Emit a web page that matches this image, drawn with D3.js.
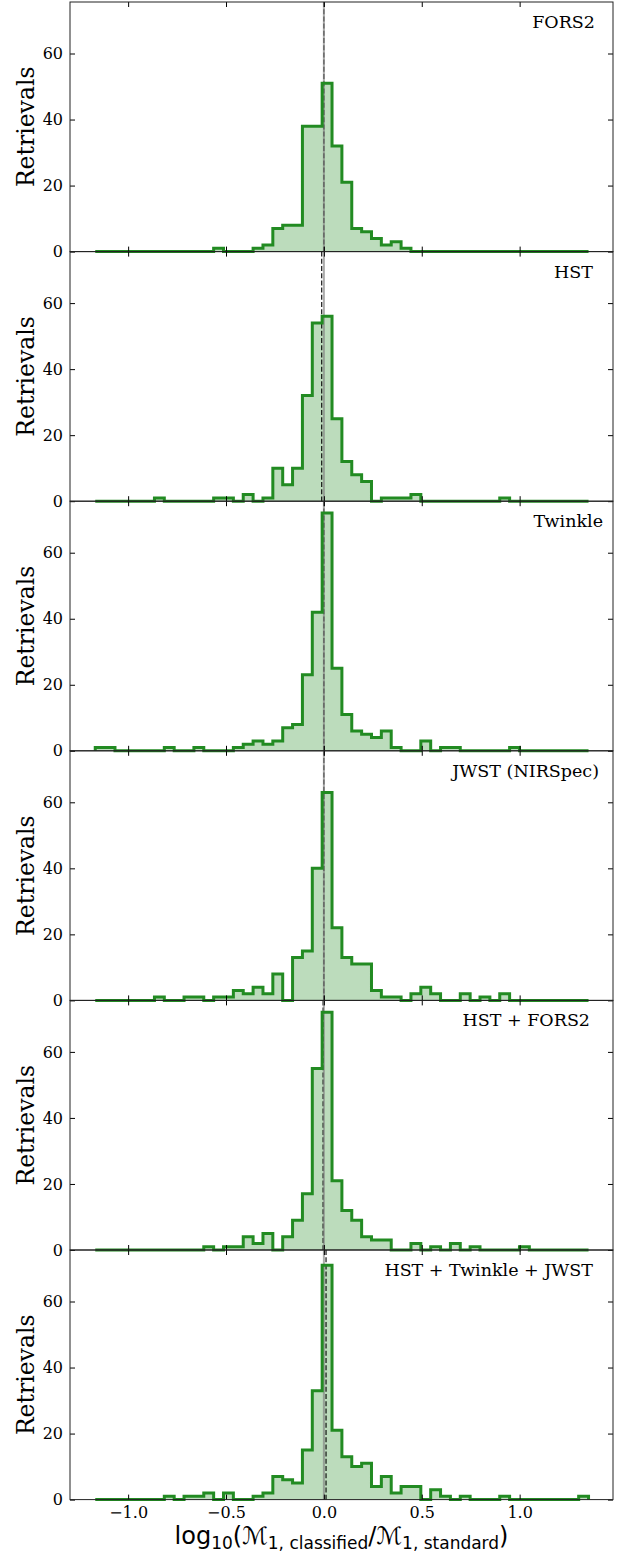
<!DOCTYPE html>
<html><head><meta charset="utf-8">
<script src="https://cdn.jsdelivr.net/npm/d3@7"></script>
<style>
html,body{margin:0;padding:0;background:#fff;}
svg{display:block;}
</style></head><body>
<svg id="chart" width="628" height="1558"></svg>
<script>
// Distribution of log10(M1,classified / M1,standard) for each instrument set
const panelNames = ["FORS2", "HST", "Twinkle", "JWST (NIRSpec)", "HST + FORS2", "HST + Twinkle + JWST"];

// 50 equal-width bins spanning this range
const binRange = [-1.168, 1.352];
const binCount = 50;

// retrievals per bin
const countsFORS2 = [0,0,0,0,0,0,0,0,0,0, 0,0,1,0,0,0,1,2,7,8, 8,38,38,51,32,21,7,6,4,2, 3,1,0,0,0,0,0,0,0,0, 0,0,0,0,0,0,0,0,0,0];
const countsHST = [0,0,0,0,0,0,1,0,0,0, 0,0,1,1,0,2,0,1,10,5, 10,32,54,56,25,12,8,6,0,1, 1,1,2,0,0,0,0,0,0,0, 0,1,0,0,0,0,0,0,0,0];
const countsTwinkle = [1,1,0,0,0,0,0,1,0,0, 1,0,0,0,1,2,3,2,3,7, 8,23,42,72,25,11,6,5,4,6, 1,0,0,3,0,1,1,0,0,0, 0,0,1,0,0,0,0,0,0,0];
const countsJWST = [0,0,0,0,0,0,1,0,0,1, 1,0,1,1,3,2,4,2,8,0, 13,15,40,63,22,13,11,11,3,1, 1,0,2,4,2,0,0,2,0,1, 0,2,0,0,0,0,0,0,0,0];
const countsHSTFORS2 = [0,0,0,0,0,0,0,0,0,0, 0,1,0,1,1,4,2,5,0,4, 9,17,55,72,21,12,9,4,3,3, 0,0,2,0,1,0,2,0,1,0, 0,0,0,1,0,0,0,0,0,0];
const countsAll = [0,0,0,0,0,0,0,1,0,1, 1,2,0,2,0,0,1,2,7,6, 5,15,33,71,21,13,10,11,4,7, 2,4,4,0,3,1,0,1,0,0, 0,1,0,0,0,0,0,0,0,1];

// median of each distribution (black dashed line)
const medians = [0.0, -0.011, 0.0, 0.0, -0.004, 0.011];

const xTicks = [-1.0, -0.5, 0.0, 0.5, 1.0];
const yTicks = [0, 20, 40, 60];
const xLimits = [-1.297, 1.477];
const yLimits = [0, 75.6];

const seriesList = [countsFORS2, countsHST, countsTwinkle, countsJWST, countsHSTFORS2, countsAll];

// layout
const left = 70, right = 613, top0 = 2, panelH = 249.6;
const labelRightEdge = [595, 593, 603, 599, 590, 593];
const green = "#228B22";

const svg = d3.select("#chart");
const x = d3.scaleLinear().domain(xLimits).range([left, right]);

const edges = d3.range(binCount + 1).map(k => binRange[0] + k * (binRange[1] - binRange[0]) / binCount);

seriesList.forEach((counts, i) => {
  const top = top0 + i * panelH;
  const bottom = top + panelH;
  const y = d3.scaleLinear().domain(yLimits).range([bottom, top]);
  const g = svg.append("g");

  // step outline points
  const pts = [[edges[0], 0]];
  counts.forEach((c, k) => { pts.push([edges[k], c]); pts.push([edges[k + 1], c]); });
  pts.push([edges[binCount], 0]);

  const line = d3.line().x(d => x(d[0])).y(d => y(d[1]));

  g.append("path")
    .attr("d", line(pts) + "Z")
    .attr("fill", green)
    .attr("fill-opacity", 0.3)
    .attr("stroke", "none");

  // median line
  g.append("line")
    .attr("x1", x(medians[i])).attr("x2", x(medians[i]))
    .attr("y1", top).attr("y2", bottom)
    .attr("stroke", "#000").attr("stroke-width", 1.1)
    .attr("stroke-dasharray", "5,2.2");

  // reference line at zero
  g.append("line")
    .attr("x1", x(0)).attr("x2", x(0))
    .attr("y1", top).attr("y2", bottom)
    .attr("stroke", "#808080").attr("stroke-width", 2).attr("stroke-opacity", 0.65);

  g.append("path")
    .attr("d", line(pts))
    .attr("fill", "none")
    .attr("stroke", green)
    .attr("stroke-width", 3)
    .attr("stroke-linejoin", "miter");

  // axes with inward ticks on all four sides
  const styleAxis = sel => {
    sel.select(".domain").remove();
    sel.selectAll("line").attr("stroke", "#000");
    sel.selectAll("text").attr("font-family", "'DejaVu Serif', serif").attr("font-size", 16).attr("fill", "#000");
  };
  g.append("g").attr("transform", `translate(${left},0)`)
    .call(d3.axisLeft(y).tickValues(yTicks).tickSize(-5).tickPadding(7).tickFormat(d3.format("d")))
    .call(styleAxis);
  g.append("g").attr("transform", `translate(${right},0)`)
    .call(d3.axisRight(y).tickValues(yTicks).tickSize(-5).tickFormat(""))
    .call(styleAxis);
  g.append("g").attr("transform", `translate(0,${top})`)
    .call(d3.axisTop(x).tickValues(xTicks).tickSize(-5).tickFormat(""))
    .call(styleAxis);
  const isLast = i === seriesList.length - 1;
  g.append("g").attr("transform", `translate(0,${bottom})`)
    .call(d3.axisBottom(x).tickValues(xTicks).tickSize(-5).tickPadding(7)
      .tickFormat(isLast ? d3.format(".1f") : ""))
    .call(styleAxis);

  // frame
  g.append("rect")
    .attr("x", left).attr("y", top)
    .attr("width", right - left).attr("height", panelH)
    .attr("fill", "none").attr("stroke", "#222").attr("stroke-width", 1);

  // instrument label
  g.append("text")
    .attr("x", labelRightEdge[i]).attr("y", top + 26)
    .attr("text-anchor", "end")
    .attr("font-family", "'DejaVu Serif', serif").attr("font-size", 17.5)
    .text(panelNames[i]);

  // y label
  g.append("text")
    .attr("transform", `translate(34,${(top + bottom) / 2}) rotate(-90)`)
    .attr("text-anchor", "middle")
    .attr("font-family", "'DejaVu Serif', serif").attr("font-size", 23.5)
    .text("Retrievals");
});

// x-axis label with subscripts
const xl = svg.append("text")
  .attr("x", (left + right) / 2).attr("y", 1544)
  .attr("text-anchor", "middle")
  .attr("font-family", "'DejaVu Sans', sans-serif").attr("font-size", 24);
const sub = 17, shift = 5;
xl.append("tspan").text("log");
xl.append("tspan").attr("font-size", sub).attr("dy", shift).text("10");
xl.append("tspan").attr("dy", -shift).text("(ℳ");
xl.append("tspan").attr("font-size", sub).attr("dy", shift).text("1, classified");
xl.append("tspan").attr("dy", -shift).text("/ℳ");
xl.append("tspan").attr("font-size", sub).attr("dy", shift).text("1, standard");
xl.append("tspan").attr("dy", -shift).text(")");
</script>
</body></html>
